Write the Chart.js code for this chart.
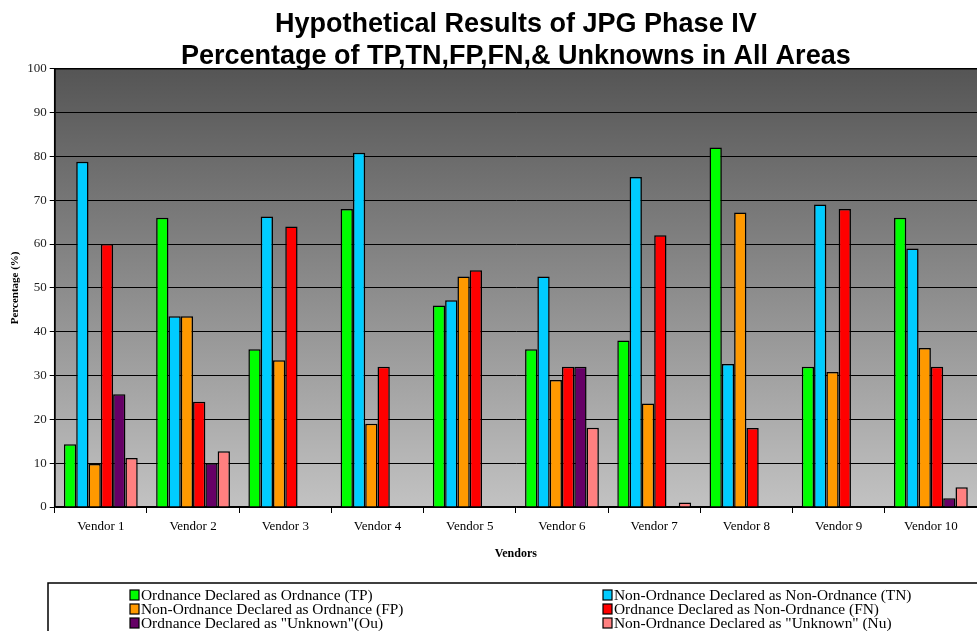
<!DOCTYPE html>
<html>
<head>
<meta charset="utf-8">
<title>Hypothetical Results of JPG Phase IV</title>
<script src="https://cdn.jsdelivr.net/npm/chart.js@4.4.1/dist/chart.umd.min.js"></script>
<style>
    html, body { margin: 0; padding: 0; background: #fff; }
    #wrap { width: 977px; height: 631px; position: relative; }
</style>
</head>
<body>
<div id="wrap"><canvas id="jpgChart"></canvas></div>
<script>
// Vendor names along the x axis
const vendors = ['Vendor 1', 'Vendor 2', 'Vendor 3', 'Vendor 4', 'Vendor 5',
                 'Vendor 6', 'Vendor 7', 'Vendor 8', 'Vendor 9', 'Vendor 10'];

// Percentages, one array per outcome
const truePos    = [14.3, 66, 36, 68, 46, 36, 38, 82, 32, 66];
const trueNeg    = [78.8, 43.5, 66.3, 80.8, 47.2, 52.6, 75.3, 32.6, 69, 59];
const falsePos   = [9.8, 43.5, 33.5, 19, 52.6, 29, 23.6, 67.2, 30.8, 36.3];
const falseNeg   = [60, 24, 64, 32, 54, 32, 62, 18, 68, 32];
const ordUnknown = [25.7, 10, 0, 0, 0, 32, 0, 0, 0, 2];
const nonUnknown = [11.2, 12.7, 0, 0, 0, 18.1, 1, 0, 0, 4.5];

const yTicks = [0, 10, 20, 30, 40, 50, 60, 70, 80, 90, 100];

const seriesNames = [
    'Ordnance Declared as Ordnance (TP)',
    'Non-Ordnance Declared as Non-Ordnance (TN)',
    'Non-Ordnance Declared as Ordnance (FP)',
    'Ordnance Declared as Non-Ordnance (FN)',
    'Ordnance Declared as "Unknown"(Ou)',
    'Non-Ordnance Declared as "Unknown" (Nu)'
];
const seriesColors = ['#00ff00', '#00ccff', '#ff9900', '#ff0000', '#660066', '#ff8080'];
const seriesData = [truePos, trueNeg, falsePos, falseNeg, ordUnknown, nonUnknown];

const serif = '"Liberation Serif", "Times New Roman", serif';

// grey gradient behind the bars, plus the black frame
const plotBackground = {
    id: 'plotBackground',
    beforeDraw(chart) {
        const { ctx, chartArea } = chart;
        const g = ctx.createLinearGradient(0, chartArea.top, 0, chartArea.bottom);
        g.addColorStop(0, '#555555');
        g.addColorStop(0.3, '#767676');
        g.addColorStop(1, '#c2c2c2');
        ctx.save();
        ctx.fillStyle = g;
        ctx.fillRect(chartArea.left, chartArea.top, chartArea.right - chartArea.left, chartArea.bottom - chartArea.top);
        ctx.restore();
    },
    afterDraw(chart) {
        const { ctx, chartArea } = chart;
        ctx.save();
        ctx.strokeStyle = '#000';
        ctx.lineWidth = 1.5;
        ctx.beginPath();
        ctx.moveTo(chartArea.left, chartArea.bottom);
        ctx.lineTo(chartArea.left, chartArea.top);
        ctx.lineTo(chartArea.right, chartArea.top);
        ctx.stroke();
        ctx.restore();
    }
};

// boxed legend in two columns under the axis title
const boxLegend = {
    id: 'boxLegend',
    afterDraw(chart, args, opts) {
        const ctx = chart.ctx;
        const sets = chart.data.datasets;
        ctx.save();
        ctx.strokeStyle = '#000';
        ctx.lineWidth = 1.5;
        ctx.beginPath();
        ctx.moveTo(opts.boxLeft, chart.height + 2);
        ctx.lineTo(opts.boxLeft, opts.boxTop);
        ctx.lineTo(chart.width + 2, opts.boxTop);
        ctx.stroke();

        ctx.font = '15.4px ' + serif;
        ctx.textBaseline = 'middle';
        ctx.fillStyle = '#000';
        sets.forEach((ds, i) => {
            const col = i % 2;
            const row = Math.floor(i / 2);
            const x = opts.columns[col];
            const y = opts.firstRow + row * opts.rowGap;
            ctx.fillStyle = ds.backgroundColor;
            ctx.fillRect(x, y - 5, 9, 10);
            ctx.lineWidth = 1.2;
            ctx.strokeRect(x, y - 5, 9, 10);
            ctx.fillStyle = '#000';
            ctx.fillText(ds.label, x + 11, y + 1);
        });
        ctx.restore();
    }
};

document.addEventListener('DOMContentLoaded', function() {
    const ctx = document.getElementById('jpgChart');

    new Chart(ctx, {
        type: 'bar',
        data: {
            labels: vendors,
            datasets: seriesData.map((vals, i) => ({
                label: seriesNames[i],
                data: vals,
                backgroundColor: seriesColors[i],
                borderColor: '#000',
                borderWidth: 1.5,
                borderSkipped: 'bottom',
                categoryPercentage: 0.8,
                barPercentage: 1.0
            }))
        },
        options: {
            responsive: true,
            maintainAspectRatio: false,
            animation: false,
            devicePixelRatio: 1,
            layout: {
                padding: { left: 9, right: 0, top: 0, bottom: 70 }
            },
            plugins: {
                legend: { display: false },
                tooltip: { enabled: false },
                title: {
                    display: true,
                    fullSize: false,
                    text: ['Hypothetical Results of JPG Phase IV',
                           'Percentage of TP,TN,FP,FN,& Unknowns in All Areas'],
                    color: '#000',
                    font: { family: '"Liberation Sans", Arial, sans-serif', size: 27, weight: 'bold', lineHeight: 1.18 },
                    padding: { top: 9, bottom: -4 }
                },
                boxLegend: {
                    boxLeft: 48,
                    boxTop: 583,
                    columns: [130, 603],
                    firstRow: 595,
                    rowGap: 14
                }
            },
            scales: {
                x: {
                    grid: {
                        offset: true,
                        drawOnChartArea: false,
                        color: '#000',
                        tickLength: 6
                    },
                    border: { color: '#000', width: 1.5 },
                    ticks: {
                        color: '#000',
                        padding: 6,
                        font: { family: serif, size: 13 }
                    },
                    title: {
                        display: true,
                        text: 'Vendors',
                        color: '#000',
                        font: { family: serif, size: 12, weight: 'bold' },
                        padding: { top: 6, bottom: 0 }
                    }
                },
                y: {
                    min: 0,
                    max: 100,
                    afterBuildTicks: function(axis) {
                        axis.ticks = yTicks.map(v => ({ value: v }));
                    },
                    grid: {
                        color: '#000',
                        lineWidth: 1,
                        tickLength: 5
                    },
                    border: { color: '#000', width: 1.5 },
                    ticks: {
                        color: '#222',
                        padding: 3,
                        font: { family: serif, size: 13 }
                    },
                    title: {
                        display: true,
                        text: 'Percentage (%)',
                        color: '#000',
                        font: { family: serif, size: 11, weight: 'bold' },
                        padding: { top: 0, bottom: 2 }
                    }
                }
            }
        },
        plugins: [plotBackground, boxLegend]
    });
});
</script>
</body>
</html>
